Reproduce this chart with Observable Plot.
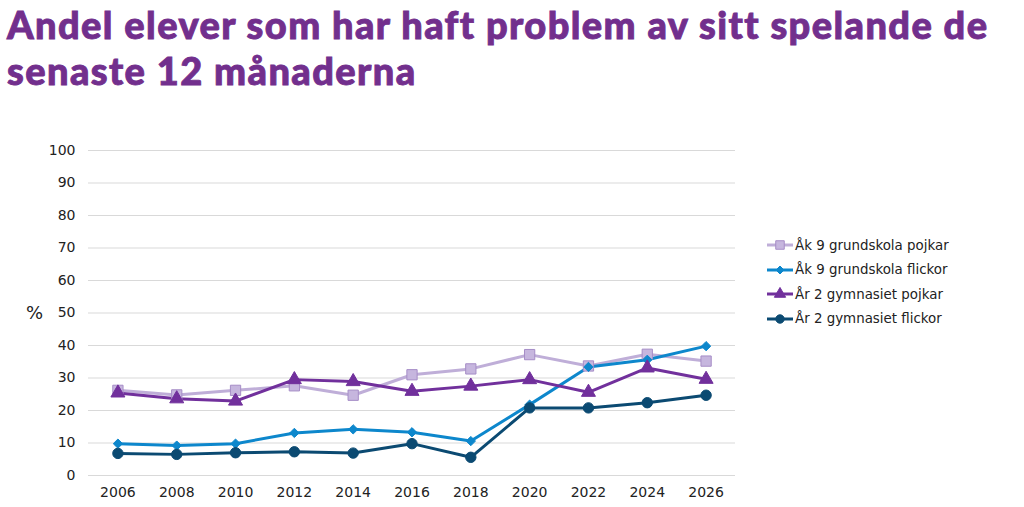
<!DOCTYPE html>
<html>
<head>
<meta charset="utf-8">
<script src="https://cdn.jsdelivr.net/npm/d3@7"></script>
<script src="https://cdn.jsdelivr.net/npm/@observablehq/plot@0.6"></script>
<style>
  html, body { margin: 0; padding: 0; background: #fff; }
  #wrap { position: relative; width: 1024px; height: 507px; overflow: hidden; }
  #title { position: absolute; left: 7px; top: 1px; font-family: Lato, "DejaVu Sans", sans-serif; font-weight: 900; font-size: 38px; line-height: 46px; color: #722f8d; letter-spacing: 1.4px; -webkit-text-stroke: 0.9px #722f8d; white-space: nowrap; }
  #chart { position: absolute; left: 0; top: 125px; }
  #legend { position: absolute; left: 766px; top: 233px; font-family: "DejaVu Sans", Verdana, sans-serif; font-size: 13.4px; color: #222; }
  .item { display: flex; align-items: center; height: 24.5px; }
  .item svg { margin-right: 1px; }
</style>
</head>
<body>
<div id="wrap">
  <div id="title">Andel elever som har haft problem av sitt spelande de<br>senaste 12 månaderna</div>
  <div id="chart"></div>
  <div id="legend"></div>
</div>
<script>
const years = [2006, 2008, 2010, 2012, 2014, 2016, 2018, 2020, 2022, 2024, 2026];
const seriesNames = ["Åk 9 grundskola pojkar", "Åk 9 grundskola flickor", "År 2 gymnasiet pojkar", "År 2 gymnasiet flickor"];
const ak9Pojkar = [26.2, 24.8, 26.2, 27.6, 24.7, 31.0, 32.8, 37.2, 33.7, 37.3, 35.2];
const ak9Flickor = [9.8, 9.2, 9.8, 13.1, 14.2, 13.3, 10.6, 21.8, 33.4, 35.6, 39.8];
const ar2Pojkar = [25.4, 23.6, 22.9, 29.5, 28.9, 25.9, 27.5, 29.5, 25.6, 33.1, 29.6];
const ar2Flickor = [6.8, 6.5, 7.0, 7.3, 6.9, 9.8, 5.6, 20.8, 20.8, 22.4, 24.7];
const yTicks = [0, 10, 20, 30, 40, 50, 60, 70, 80, 90, 100];

const styles = [
  {line: "#bfaed8", fill: "#c6b6de", stroke: "#a68dc7", symbol: "square", r: 5.8, lr: 4.8},
  {line: "#0d87cc", fill: "#0d87cc", stroke: "#0d87cc", symbol: "diamond2", r: 4.2, lr: 3.6},
  {line: "#71309c", fill: "#71309c", stroke: "#71309c", symbol: "triangle", r: 5.2, lr: 4.2},
  {line: "#0b4a72", fill: "#0b4a72", stroke: "#0b4a72", symbol: "circle", r: 5.2, lr: 4.2}
];
const allValues = [ak9Pojkar, ak9Flickor, ar2Pojkar, ar2Flickor];
const data = allValues.map((vals, i) => years.map((yr, j) => ({year: yr, value: vals[j], series: seriesNames[i]})));

const font = "DejaVu Sans, Verdana, sans-serif";
const marks = [
  Plot.ruleY(yTicks, {stroke: "#d9d9d9", strokeWidth: 1}),
  Plot.axisY(yTicks, {tickSize: 0, tickPadding: 13, fontSize: 14, fontFamily: font, label: null}),
  Plot.axisX(years, {tickSize: 0, tickPadding: 12, fontSize: 14, fontFamily: font, tickFormat: d => String(d), label: null}),
  Plot.text(["%"], {frameAnchor: "left", dx: -54, fontSize: 18, fontFamily: font, textAnchor: "middle", fill: "#222"})
];
data.forEach((d, i) => {
  const s = styles[i];
  marks.push(Plot.line(d, {x: "year", y: "value", stroke: s.line, strokeWidth: 3}));
});
data.forEach((d, i) => {
  const s = styles[i];
  marks.push(Plot.dot(d, {x: "year", y: "value", symbol: () => s.symbol, fill: s.fill, stroke: s.stroke, strokeWidth: 1, r: s.r}));
});

const plot = Plot.plot({
  width: 1024,
  height: 382,
  marginLeft: 88,
  marginRight: 289,
  marginTop: 25,
  marginBottom: 32,
  x: {domain: [2005, 2027], axis: null},
  y: {domain: [0, 100], axis: null},
  symbol: {type: "identity"},
  style: {color: "#222", background: "transparent"},
  marks
});
document.getElementById("chart").appendChild(plot);

// Legend
const legend = document.getElementById("legend");
const symMap = {square: d3.symbolSquare, diamond2: d3.symbolDiamond2, triangle: d3.symbolTriangle, circle: d3.symbolCircle};
seriesNames.forEach((name, i) => {
  const s = styles[i];
  const item = document.createElement("div");
  item.className = "item";
  const sym = d3.symbol().type(symMap[s.symbol]).size(Math.PI * s.lr ** 2)();
  item.innerHTML = `<svg width="28" height="14"><line x1="1" x2="27" y1="7" y2="7" stroke="${s.line}" stroke-width="3"/><path transform="translate(14,7)" d="${sym}" fill="${s.fill}" stroke="${s.stroke}"/></svg><span>${name}</span>`;
  legend.appendChild(item);
});
</script>
</body>
</html>
